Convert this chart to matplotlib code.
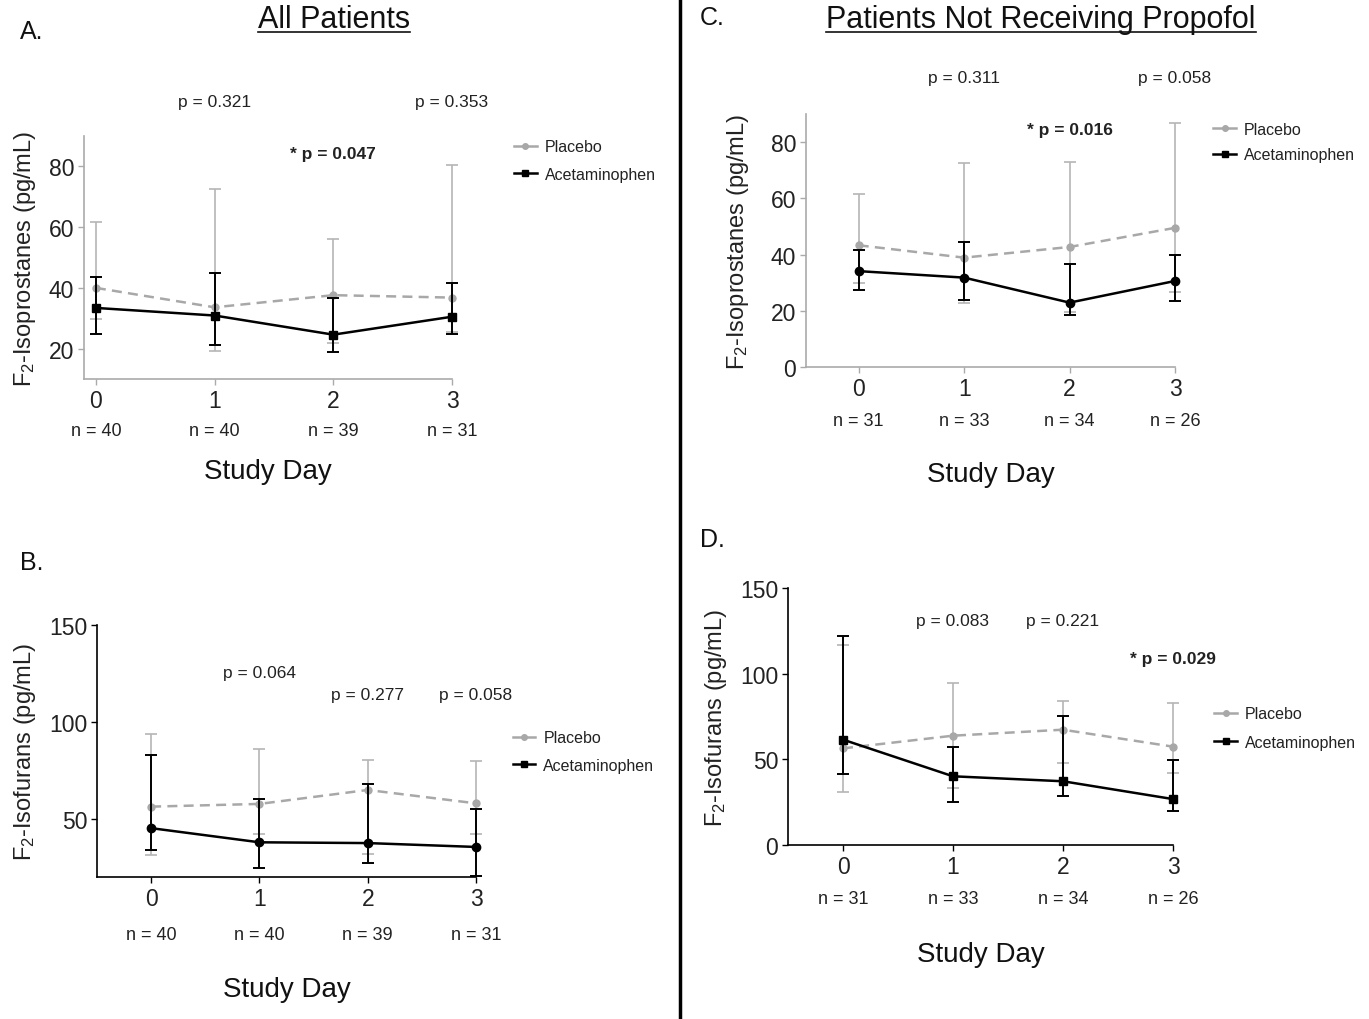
import matplotlib
matplotlib.use("Agg")
import matplotlib.pyplot as plt
from matplotlib.lines import Line2D

plt.rcParams['font.family'] = ['Liberation Sans', 'DejaVu Sans']
plt.rcParams['mathtext.fontset'] = 'custom'
plt.rcParams['mathtext.rm'] = 'Liberation Sans'
plt.rcParams['mathtext.it'] = 'Liberation Sans'

days = [0, 1, 2, 3]

# A. F2-isoprostanes, all patients
a_plac = [40.0, 33.6, 37.6, 36.8]
a_plac_lo = [29.8, 19.1, 22.0, 25.4]
a_plac_hi = [61.8, 72.5, 56.1, 80.5]
a_acet = [33.4, 30.9, 24.6, 30.5]
a_acet_lo = [24.9, 21.1, 18.9, 24.7]
a_acet_hi = [43.6, 45.0, 36.8, 41.5]
a_n = ["n = 40", "n = 40", "n = 39", "n = 31"]

# B. F2-isofurans, all patients
b_plac = [56.3, 57.7, 64.9, 58.0]
b_plac_lo = [31.2, 42.1, 31.9, 42.1]
b_plac_hi = [93.9, 86.2, 80.6, 79.7]
b_acet = [45.2, 37.9, 37.5, 35.5]
b_acet_lo = [34.1, 24.7, 27.3, 20.4]
b_acet_hi = [82.8, 60.3, 67.8, 55.1]
b_n = ["n = 40", "n = 40", "n = 39", "n = 31"]

# C. F2-isoprostanes, no propofol
c_plac = [43.3, 38.9, 42.7, 49.5]
c_plac_lo = [30.0, 22.9, 19.5, 26.8]
c_plac_hi = [61.7, 72.7, 73.0, 86.9]
c_acet = [34.1, 31.8, 22.9, 30.6]
c_acet_lo = [27.3, 23.7, 18.4, 23.5]
c_acet_hi = [41.6, 44.4, 36.6, 39.8]
c_n = ["n = 31", "n = 33", "n = 34", "n = 26"]

# D. F2-isofurans, no propofol
d_plac = [56.4, 63.8, 67.3, 57.4]
d_plac_lo = [30.7, 33.0, 48.0, 42.0]
d_plac_hi = [116.7, 94.4, 84.2, 82.9]
d_acet = [61.5, 40.1, 37.2, 26.8]
d_acet_lo = [41.4, 24.9, 28.4, 20.0]
d_acet_hi = [121.8, 57.4, 75.1, 49.6]
d_n = ["n = 31", "n = 33", "n = 34", "n = 26"]

GRAY = '#a8a8a8'
px = 0.72  # pixels -> points at dpi 100

fig = plt.figure(figsize=(13.69, 10.20), dpi=100)


def panel(rect, plac, plac_lo, plac_hi, acet, acet_lo, acet_hi, nlab, ylim, yticks,
          xlim, ylabel, pvals, spine_col, acet_marker, leg_anchor, leg_sp, n_off, xl_off, yl_pad):
    ax = fig.add_axes(rect)
    p_err = [[m - l for m, l in zip(plac, plac_lo)], [h - m for m, h in zip(plac, plac_hi)]]
    a_err = [[m - l for m, l in zip(acet, acet_lo)], [h - m for m, h in zip(acet, acet_hi)]]
    ax.errorbar(days, plac, yerr=p_err, color=GRAY, ls=(0, (4, 2.5)), lw=1.8,
                marker='o', ms=5, capsize=4, elinewidth=1.2, capthick=1.2,
                ecolor='#b5b5b5', clip_on=False, zorder=2)
    ax.errorbar(days, acet, yerr=a_err, color='black', ls='-', lw=1.8,
                marker=acet_marker, ms=6, capsize=4, elinewidth=1.4, capthick=1.4,
                clip_on=False, zorder=3)
    ax.set_xlim(*xlim)
    ax.set_ylim(*ylim)
    ax.set_xticks(days)
    ax.set_yticks(yticks)
    for s in ['top', 'right']:
        ax.spines[s].set_visible(False)
    for s in ['left', 'bottom']:
        ax.spines[s].set_color(spine_col)
        ax.spines[s].set_linewidth(1.2)
    ax.tick_params(colors=spine_col, labelcolor='#222222', labelsize=16.5,
                   length=4, width=1.0, pad=3)
    ax.set_ylabel(ylabel, fontsize=17, color='#222222', labelpad=yl_pad)
    for d, lab in zip(days, nlab):
        ax.annotate(lab, xy=(d, 0), xycoords=('data', 'axes fraction'),
                    xytext=(0, -n_off * px), textcoords='offset points',
                    ha='center', va='center', fontsize=13, color='#222222')
    ax.annotate('Study Day', xy=(0.5, 0), xycoords='axes fraction',
                xytext=(0, -xl_off * px), textcoords='offset points',
                ha='center', va='center', fontsize=20, color='#111111')
    for d, y, txt, bold in pvals:
        ax.text(d, y, txt, ha='center', va='center', fontsize=12.5,
                fontweight='bold' if bold else 'normal', color='#222222',
                clip_on=False)
    handles = [Line2D([], [], color=GRAY, marker='o', ms=4, lw=1.8),
               Line2D([], [], color='black', marker='s', ms=5, lw=1.8)]
    ax.legend(handles, ['Placebo', 'Acetaminophen'], loc='upper left',
              bbox_to_anchor=leg_anchor, frameon=False, fontsize=11.5,
              handlelength=1.4, handletextpad=0.5, labelspacing=leg_sp,
              labelcolor='#222222')
    return ax


W, H = 1369, 1020


def rect(l, t, r, b):
    return [l / W, 1 - b / H, (r - l) / W, (b - t) / H]


panel(rect(84, 137, 452, 380), a_plac, a_plac_lo, a_plac_hi, a_acet, a_acet_lo, a_acet_hi,
      a_n, (10, 90), [20, 40, 60, 80], (-0.1, 3.0), r'F$_2$-Isoprostanes (pg/mL)',
      [(1, 101.4, 'p = 0.321', False), (3, 101.4, 'p = 0.353', False),
       (2, 84.2, '* p = 0.047', True)],
      '#aaaaaa', 's', (1.13, 1.045), 0.78, 52, 92, 8)

panel(rect(97, 626, 476, 878), b_plac, b_plac_lo, b_plac_hi, b_acet, b_acet_lo, b_acet_hi,
      b_n, (20, 150), [50, 100, 150], (-0.5, 3.0), r'F$_2$-Isofurans (pg/mL)',
      [(1, 125.3, 'p = 0.064', False), (2, 114, 'p = 0.277', False),
       (3, 114, 'p = 0.058', False)],
      'black', 'o', (1.06, 0.64), 0.78, 57, 112, 8)

panel(rect(806, 115, 1175, 368), c_plac, c_plac_lo, c_plac_hi, c_acet, c_acet_lo, c_acet_hi,
      c_n, (0, 90), [0, 20, 40, 60, 80], (-0.5, 3.0), r'F$_2$-Isoprostanes (pg/mL)',
      [(1, 103, 'p = 0.311', False), (3, 103, 'p = 0.058', False),
       (2, 84.5, '* p = 0.016', True)],
      '#aaaaaa', 'o', (1.065, 1.025), 0.65, 54, 107, 14)

panel(rect(788, 589, 1173, 846), d_plac, d_plac_lo, d_plac_hi, d_acet, d_acet_lo, d_acet_hi,
      d_n, (0, 150), [0, 50, 100, 150], (-0.5, 3.0), r'F$_2$-Isofurans (pg/mL)',
      [(1, 131, 'p = 0.083', False), (2, 131, 'p = 0.221', False),
       (3, 108.8, '* p = 0.029', True)],
      'black', 's', (1.07, 0.595), 0.85, 54, 109, 8)

# panel letters and headings
for x, y, s in [(20, 32, 'A.'), (20, 563, 'B.'), (700, 18, 'C.'), (700, 540, 'D.')]:
    fig.text(x / W, 1 - y / H, s, fontsize=18, ha='left', va='center', color='#111111')

titles = [fig.text(334 / W, 1 - 20 / H, 'All Patients', fontsize=22, ha='center', va='center', color='#111111'),
          fig.text(1041 / W, 1 - 20 / H, 'Patients Not Receiving Propofol', fontsize=22, ha='center', va='center', color='#111111')]
fig.canvas.draw()
for t in titles:
    bb = t.get_window_extent().transformed(fig.transFigure.inverted())
    fig.add_artist(Line2D([bb.x0, bb.x1], [bb.y0 + 0.002, bb.y0 + 0.002], color='#111111', lw=1.2,
                          transform=fig.transFigure))

# divider between left and right columns
fig.add_artist(Line2D([680 / W, 680 / W], [0, 1], color='black', lw=2.5, transform=fig.transFigure))

fig.savefig('out.png', dpi=100)
